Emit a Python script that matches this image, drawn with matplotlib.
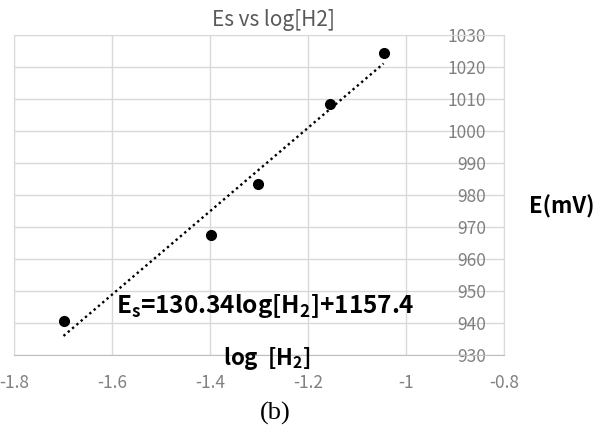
import numpy as np
import matplotlib
matplotlib.use("Agg")
import matplotlib.pyplot as plt

plt.rcParams['font.family'] = ['Noto Sans CJK KR', 'DejaVu Sans']
plt.rcParams['mathtext.fontset'] = 'custom'
plt.rcParams['mathtext.rm'] = 'Noto Sans CJK KR'
plt.rcParams['mathtext.bf'] = 'Noto Sans CJK KR:bold'

# H2 concentrations (log scale) and measured sensor EMF
log_h2 = [np.log10(0.02), np.log10(0.04), np.log10(0.05), np.log10(0.07), np.log10(0.09)]
emf = [940.7, 967.4, 983.5, 1008.3, 1024.4]

# linear fit reported on the chart
slope = 130.34
intercept = 1157.4

x_ticks = [-1.8, -1.6, -1.4, -1.2, -1.0, -0.8]
x_tick_labels = ['-1.8', '-1.6', '-1.4', '-1.2', '-1', '-0.8']
y_ticks = [930, 940, 950, 960, 970, 980, 990, 1000, 1010, 1020, 1030]

W, H = 610, 428
fig = plt.figure(figsize=(W / 100, H / 100), dpi=100)
ax = fig.add_axes([14 / W, 1 - 355 / H, (504 - 14) / W, (355 - 35) / H])

fit_x = np.array([min(log_h2), max(log_h2)])
ax.plot(fit_x, slope * fit_x + intercept, color='black', lw=1.7,
        linestyle=(0, (1, 1.4)), zorder=2)
ax.plot(log_h2, emf, 'o', color='black', markersize=7, zorder=3)

ax.set_xlim(-1.8, -0.8)
ax.set_ylim(930, 1030)
ax.set_xticks(x_ticks)
ax.set_xticklabels(x_tick_labels)
ax.set_yticks(y_ticks)
ax.grid(True, color='#d9d9d9', lw=1.0, zorder=0)
for s in ax.spines.values():
    s.set_color('#d9d9d9')
ax.spines['bottom'].set_color('#bfbfbf')

# value labels sit just inside the right edge
ax.yaxis.tick_right()
ax.tick_params(axis='both', length=0, labelsize=12.5, labelcolor='#808080')
ax.tick_params(axis='x', pad=14)
ax.tick_params(axis='y', pad=-13)
for lbl in ax.get_yticklabels():
    lbl.set_horizontalalignment('right')

ax.text(-1.288, 945.3, r'E$_\mathbf{s}$=130.34log[H$_\mathbf{2}$]+1157.4',
        fontsize=17.5, fontweight='bold', ha='center', va='center', zorder=4)

fig.text(273 / W, 1 - 20 / H, 'Es vs log[H2]', fontsize=15, color='#595959',
         ha='center', va='center')
fig.text(267 / W, 1 - 358 / H, r'log  [H$_\mathbf{2}$]', fontsize=16,
         fontweight='bold', ha='center', va='center')
fig.text(562 / W, 1 - 207 / H, 'E(mV)', fontsize=16, fontweight='bold',
         ha='center', va='center')
fig.text(275 / W, 1 - 413 / H, '(b)', fontsize=19, family='Liberation Serif',
         ha='center', va='center')

fig.savefig('out.png', dpi=100)
